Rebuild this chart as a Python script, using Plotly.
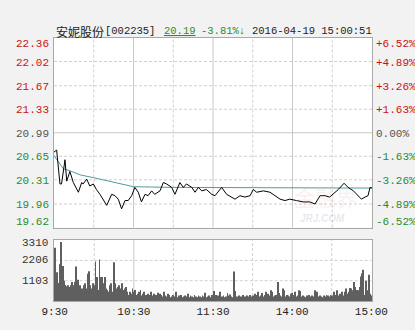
import plotly.graph_objects as go

# ---------------- data ----------------
stock_name = "安妮股份"
stock_code = "[002235]"
last_price = "20.19"
change_pct = "-3.81%↓"
timestamp = "2016-04-19 15:00:51"

prev_close = 20.99
price_ticks = [19.62, 19.96, 20.31, 20.65, 20.99, 21.33, 21.67, 22.02, 22.36]
price_labels = ["19.62", "19.96", "20.31", "20.65", "20.99", "21.33", "21.67", "22.02", "22.36"]
pct_labels = ["-6.52%", "-4.89%", "-3.26%", "-1.63%", "0.00%", "+1.63%", "+3.26%", "+4.89%", "+6.52%"]

vol_ticks = [1103, 2206, 3310]
vol_labels = ["1103", "2206", "3310"]

time_ticks = [0, 60, 120, 180, 240]
time_labels = ["9:30", "10:30", "11:30", "14:00", "15:00"]
grid_minutes = [30, 60, 90, 120, 150, 180, 210]
solid_minutes = [60, 120, 180]

# price (minute index from 9:30, trading minutes)
price_min = [0, 2, 4.5, 5.7, 8.3, 9.6, 12, 13.3, 14.6, 18.4, 20.9, 22, 24.7, 27, 29.7, 32, 34.7,
             39.8, 43.5, 46, 48.5, 51, 53.6, 56, 58.6, 61, 63.6, 66, 68.7, 71, 73.7, 76, 80,
             82.5, 85, 88.8, 91.3, 95, 97.6, 100, 104, 106.4, 109, 111.5, 115, 119, 121.5,
             126.5, 129, 130.3, 136.6, 140.4, 144, 148, 150.4, 153, 158, 163, 166.8, 170.6,
             174.3, 178, 183, 188, 193, 197, 200.8, 204.5, 208, 212, 214.6, 218.9, 222, 226,
             229.7, 232, 234.7, 237, 238.5, 240]
price_val = [20.71, 20.74, 20.25, 20.25, 20.60, 20.29, 20.43, 20.34, 20.27, 20.13, 20.27, 20.25,
             20.32, 20.22, 20.25, 20.17, 20.10, 19.94, 20.10, 20.08, 20.03, 19.89, 20.01, 20.01,
             20.08, 20.20, 20.13, 19.99, 20.10, 20.08, 20.15, 20.10, 20.15, 20.27, 20.25, 20.20,
             20.10, 20.27, 20.20, 20.25, 20.20, 20.13, 20.20, 20.15, 20.17, 20.10, 20.08, 20.20,
             20.13, 20.10, 20.03, 20.08, 20.06, 20.08, 20.17, 20.13, 20.15, 20.13, 20.08, 20.03,
             20.01, 20.03, 20.01, 19.99, 19.99, 19.96, 20.08, 20.08, 20.06, 20.13, 20.17, 20.26,
             20.20, 20.15, 20.08, 20.03, 20.06, 20.08, 20.20, 20.19]

avg_min = [0, 3, 7, 12, 20, 30, 40, 50, 60, 90, 150, 240]
avg_val = [20.66, 20.58, 20.47, 20.44, 20.38, 20.34, 20.30, 20.25, 20.21, 20.20, 20.20, 20.19]

# volume per minute (241 bars)
volume = [
    2890, 1030, 1560, 980, 2000, 3200, 1900, 1100, 870, 800,
    860, 760, 860, 1030, 860, 1030, 1880, 600, 1160, 860,
    600, 680, 860, 960, 680, 1480, 1620, 860, 680, 960,
    860, 2150, 1310, 600, 2250, 1310, 1310, 960, 1310, 680,
    600, 500, 860, 960, 500, 2100, 960, 680, 760, 860,
    680, 960, 600, 680, 760, 500, 330, 500, 400, 680,
    500, 600, 330, 400, 500, 600, 300, 400, 500, 330,
    250, 400, 330, 500, 300, 400, 250, 330, 450, 250,
    400, 330, 250, 500, 300, 250, 400, 330, 200, 250,
    330, 250, 500, 200, 300, 250, 330, 200, 250, 300,
    250, 400, 200, 300, 250, 200, 330, 250, 200, 300,
    250, 200, 300, 250, 450, 200, 250, 300, 200, 330,
    250, 540, 330, 250, 300, 500, 200, 250, 300, 200,
    250, 430, 300, 360, 250, 200, 1600, 550, 250, 200,
    300, 250, 200, 330, 250, 200, 300, 250, 330, 250,
    300, 250, 400, 330, 500, 250, 300, 430, 250, 330,
    500, 250, 400, 300, 580, 500, 250, 300, 330, 1030,
    430, 300, 250, 680, 580, 250, 330, 300, 250, 400,
    430, 330, 500, 250, 300, 580, 540, 250, 300, 250,
    200, 300, 250, 330, 250, 300, 250, 580, 300, 500,
    250, 300, 250, 200, 300, 250, 330, 300, 250, 330,
    300, 250, 500, 330, 580, 300, 400, 330, 500, 300,
    500, 680, 400, 500, 700, 680, 580, 1030, 760, 600,
    580, 760, 1330, 1500, 1700, 330, 1100, 580, 1420, 400,
    300,
]
vol_min = list(range(len(volume)))

# ---------------- figure ----------------
RED = "#cc1111"
GREEN = "#2e8b2e"
GRAY = "#555555"
MONO = "Liberation Mono, DejaVu Sans Mono, monospace"
CJK = "Noto Sans CJK SC, sans-serif"
GRID = "#c8c8c8"
BORDER = "#a8a8a8"

fig = go.Figure()
fig.add_trace(go.Scatter(x=avg_min, y=avg_val, mode="lines",
                         line=dict(color="#4f9c9a", width=1), xaxis="x", yaxis="y",
                         hoverinfo="skip"))
fig.add_trace(go.Scatter(x=price_min, y=price_val, mode="lines",
                         line=dict(color="#000000", width=1), xaxis="x", yaxis="y",
                         hoverinfo="skip"))
fig.add_trace(go.Bar(x=vol_min, y=volume, marker=dict(color="#5f5f5f", line=dict(width=0)),
                     xaxis="x2", yaxis="y2", hoverinfo="skip"))

shapes = []
# horizontal price grid
for i, v in enumerate(price_ticks[1:-1]):
    solid = abs(v - prev_close) < 1e-6
    shapes.append(dict(type="line", xref="x", yref="y", x0=0, x1=240, y0=v, y1=v,
                       line=dict(color=GRID if solid else "#d0d0d0", width=1,
                                 dash="solid" if solid else "3px,2px"), layer="below"))
# horizontal volume grid
for v in vol_ticks[:-1]:
    shapes.append(dict(type="line", xref="x2", yref="y2", x0=0, x1=240, y0=v, y1=v,
                       line=dict(color="#d0d0d0", width=1, dash="3px,2px"), layer="below"))
# vertical grid
for m in grid_minutes:
    solid = m in solid_minutes
    for xr, yr in (("x", "y domain"), ("x2", "y2 domain")):
        shapes.append(dict(type="line", xref=xr, yref=yr, x0=m, x1=m, y0=0, y1=1,
                           line=dict(color=GRID if solid else "#d0d0d0", width=1,
                                     dash="solid" if solid else "3px,2px"), layer="below"))

annotations = []
# left price labels + right pct labels
n = len(price_ticks)
for i, (v, lab, pl) in enumerate(zip(price_ticks, price_labels, pct_labels)):
    if v > prev_close + 1e-6:
        col = RED
    elif v < prev_close - 1e-6:
        col = GREEN
    else:
        col = GRAY
    ys = -6 if i == n - 1 else (6 if i == 0 else -1)
    annotations.append(dict(xref="paper", yref="y", x=0, y=v, text=lab, showarrow=False,
                            xanchor="right", yanchor="middle", xshift=-3, yshift=ys,
                            font=dict(family=MONO, size=11, color=col)))
    annotations.append(dict(xref="paper", yref="y", x=1, y=v, text=pl, showarrow=False,
                            xanchor="left", yanchor="middle", xshift=2, yshift=ys,
                            font=dict(family=MONO, size=11, color=col)))
# volume labels
for i, (v, lab) in enumerate(zip(vol_ticks, vol_labels)):
    ys = -3 if i == len(vol_ticks) - 1 else 0
    annotations.append(dict(xref="paper", yref="y2", x=0, y=v, text=lab, showarrow=False,
                            xanchor="right", yanchor="middle", xshift=-4, yshift=ys,
                            font=dict(family=MONO, size=11, color="#333333")))
# header
hy = 1.0
annotations += [
    dict(xref="paper", yref="paper", x=0, y=hy, yshift=7, xshift=0, text=stock_name,
         showarrow=False, xanchor="left", yanchor="middle",
         font=dict(family=CJK, size=12, color="#222222")),
    dict(xref="paper", yref="paper", x=0, y=hy, yshift=7, xshift=49, text=stock_code,
         showarrow=False, xanchor="left", yanchor="middle",
         font=dict(family=MONO, size=10.5, color="#222222")),
    dict(xref="paper", yref="paper", x=0, y=hy, yshift=7, xshift=108,
         text="<u>" + last_price + "</u>",
         showarrow=False, xanchor="left", yanchor="middle",
         font=dict(family=MONO, size=10.5, color=GREEN)),
    dict(xref="paper", yref="paper", x=0, y=hy, yshift=7, xshift=145, text=change_pct,
         showarrow=False, xanchor="left", yanchor="middle",
         font=dict(family=MONO, size=10.5, color=GREEN)),
    dict(xref="paper", yref="paper", x=1, y=hy, yshift=7, xshift=2, text=timestamp,
         showarrow=False, xanchor="right", yanchor="middle",
         font=dict(family=MONO, size=10.5, color="#222222")),
]
# watermark
annotations += [
    dict(xref="x", yref="y", x=205, y=20.06, text="金融界", showarrow=False,
         xanchor="center", yanchor="middle",
         font=dict(family=CJK, size=21, color="rgba(225,120,120,0.13)")),
    dict(xref="x", yref="y", x=203, y=19.62, text="<b><i>JRJ.COM</i></b>", showarrow=False,
         xanchor="center", yanchor="bottom", yshift=2,
         font=dict(family="Liberation Sans, sans-serif", size=10, color="rgba(150,160,190,0.25)")),
]

axis_common = dict(showgrid=False, zeroline=False, showline=True, linecolor=BORDER,
                   linewidth=1, mirror=True, fixedrange=True)

fig.update_layout(
    width=415, height=330,
    margin=dict(l=54, r=43, t=38, b=20),
    paper_bgcolor="#f2f2f2", plot_bgcolor="#ffffff",
    showlegend=False, bargap=0.35,
    xaxis=dict(domain=[0, 1], range=[0, 240], anchor="y", showticklabels=False,
               ticks="", **axis_common),
    yaxis=dict(domain=[0.2794, 1], range=[price_ticks[0], price_ticks[-1]], anchor="x",
               showticklabels=False, ticks="", **axis_common),
    xaxis2=dict(domain=[0, 1], range=[-0.5, 240.5], anchor="y2", tickmode="array",
                tickvals=time_ticks, ticktext=time_labels, ticks="",
                tickfont=dict(family=MONO, size=11, color="#222222"), **axis_common),
    yaxis2=dict(domain=[0, 0.2316], range=[0, vol_ticks[-1]], anchor="x2",
                showticklabels=False, ticks="", **axis_common),
    shapes=shapes, annotations=annotations,
)

fig.write_html("out.html")
